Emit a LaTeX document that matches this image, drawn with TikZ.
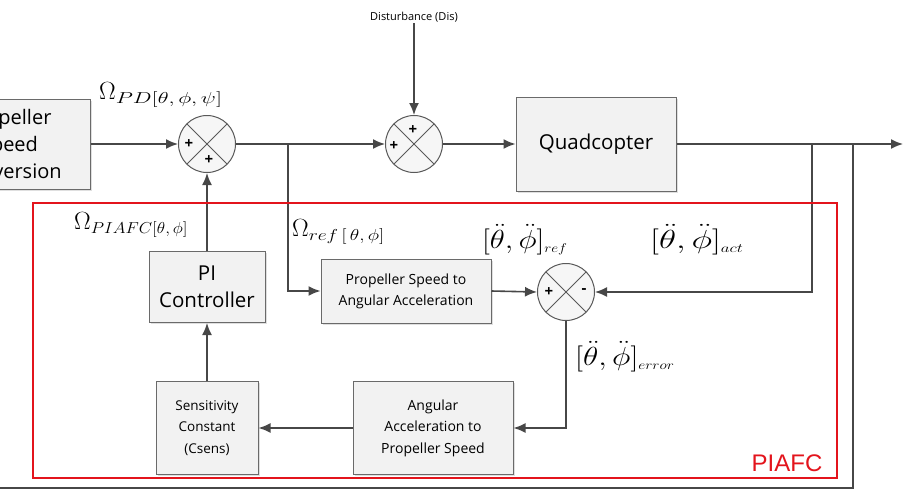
\documentclass[tikz,border=0pt]{standalone}
\usepackage{graphicx}
\usepackage{fontspec}
\setsansfont{Open Sans}
\newfontfamily\arialf{Liberation Sans}
\usetikzlibrary{arrows.meta,shadows}
\definecolor{ln}{HTML}{474747}
\definecolor{bx}{HTML}{F2F2F2}
\definecolor{bd}{HTML}{6A6A6A}
\definecolor{piared}{HTML}{E3141C}
\newcommand{\subsc}[2]{\mbox{\scalebox{#1}[1.1]{\fontsize{14.4}{16}\selectfont$#2$}}}
\newcommand{\subsm}[1]{\mbox{\fontsize{12}{14}\selectfont$#1$}}
\begin{document}
\begin{tikzpicture}[x=1pt,y=-1pt,
  conn/.style={draw=ln, line width=1.6pt},
  arr/.style={conn, -{Latex[length=12pt,width=10pt]}},
  blk/.style={draw=bd, fill=bx, line width=1pt, align=center, inner sep=0pt,
    drop shadow={shadow xshift=1.5pt, shadow yshift=-1.5pt, fill=gray!50, opacity=0.5}},
  sumnode/.style={circle, draw=gray!70!black, fill=gray!7, line width=1pt, minimum size=57pt, inner sep=0pt,
    path picture={\draw[gray!70!black, line width=0.8pt]
      (path picture bounding box.north west) -- (path picture bounding box.south east)
      (path picture bounding box.north east) -- (path picture bounding box.south west);}},
  sgn/.style={font=\sffamily\bfseries\fontsize{15}{15}\selectfont, inner sep=0pt},
  mlbl/.style={inner sep=0pt, anchor=west},
]
\useasboundingbox (0,0) rectangle (903,491);
\clip (0,0) rectangle (903,491);
% blocks
\node[blk, minimum width=162pt, minimum height=90pt, font=\sffamily\fontsize{20}{27}\selectfont] (lb) at (9,144) {Propeller\\Speed\\Conversion};
\node[blk, minimum width=160pt, minimum height=94pt, font=\sffamily\fontsize{20.5}{24}\selectfont] (quad) at (596,144) {Quadcopter};
\node[blk, minimum width=116pt, minimum height=71pt, font=\sffamily\fontsize{20.5}{27}\selectfont] (pi) at (207,287) {PI\\Controller};
\node[blk, minimum width=170pt, minimum height=64pt, font=\sffamily\fontsize{14}{21}\selectfont] (psa) at (406,291) {Propeller Speed to\\Angular Acceleration};
\node[blk, minimum width=160pt, minimum height=93pt, font=\sffamily\fontsize{14}{21.5}\selectfont] (ang) at (433,428) {Angular\\Acceleration to\\Propeller Speed};
\node[blk, minimum width=102pt, minimum height=93pt, font=\sffamily\fontsize{13.5}{21.5}\selectfont] (sens) at (207,428) {Sensitivity\\Constant\\(Csens)};
% summing junctions
\node[sumnode] (s1) at (207,144) {};
\node[sumnode] (s2) at (414,144) {};
\node[sumnode] (s3) at (566,292) {};
\node[sgn] (s1a) at (189,144) {+};
\node[sgn] (s1b) at (209,160) {+};
\node[sgn] (s2a) at (394,146) {+};
\node[sgn] (s2b) at (413,130) {+};
\node[sgn] (s3a) at (549,292) {+};
\node[sgn] (s3b) at (584,291) {-};
% disturbance
\node[font=\sffamily\fontsize{11}{13}\selectfont, inner sep=1pt] (dist) at (414,17) {Disturbance (Dis)};
% coordinates
\coordinate (b1) at (288,144);
\coordinate (b2) at (812,144);
\coordinate (b3) at (853,144);
\coordinate (out) at (903,144);
\coordinate (fb1) at (853,488);
\coordinate (fb2) at (0,488);
% connectors
\draw[arr] (lb.east |- s1) -- (s1.west);
\draw[arr] (s1.east) -- (s2.west);
\draw[arr] (b1) |- (psa.west);
\draw[arr] (dist.south) -- (s2.north);
\draw[arr] (s2.east) -- (quad.west);
\draw[arr] (quad.east) -- (out);
\draw[arr] (b2) |- (s3.east);
\draw[conn] (b3) -- (fb1) -- (fb2);
\draw[arr] (psa.east) -- (s3.west);
\draw[arr] (s3.south) |- (ang.east);
\draw[arr] (ang.west) -- (sens.east);
\draw[arr] (sens.north) -- (pi.south);
\draw[arr] (pi.north) -- (s1.south);
% PIAFC boundary
\draw[piared, line width=2.6pt] (33,203) rectangle (837,478);
\node[text=piared, font=\arialf\fontsize{24}{24}\selectfont, inner sep=0pt] (piafc) at (787,463) {PIAFC};
% math labels
\node[mlbl] (lpd) at (99,95) {\fontsize{24.88}{28}\selectfont$\Omega_{\subsc{1.55}{PD[\theta,\phi,\psi]}}$};
\node[mlbl] (lpiafc) at (74,225) {\fontsize{24.88}{28}\selectfont$\Omega_{\subsc{1.2}{PIAFC[\theta,\phi]}}$};
\node[mlbl] (lref) at (292,232) {\fontsize{24.88}{28}\selectfont$\Omega_{\subsc{1.35}{ref\,[\,\theta,\phi]}}$};
\node[mlbl] (aref) at (482,240) {\scalebox{1.25}[1.05]{\fontsize{24.88}{28}\selectfont$[\ddot\theta,\ddot\phi]_{\subsm{ref}}$}};
\node[mlbl] (aact) at (650,240) {\scalebox{1.42}[1.05]{\fontsize{24.88}{28}\selectfont$[\ddot\theta,\ddot\phi]_{\subsm{act}}$}};
\node[mlbl] (aerr) at (575,357) {\scalebox{1.27}[1.05]{\fontsize{24.88}{28}\selectfont$[\ddot\theta,\ddot\phi]_{\subsm{error}}$}};
\end{tikzpicture}
\end{document}
